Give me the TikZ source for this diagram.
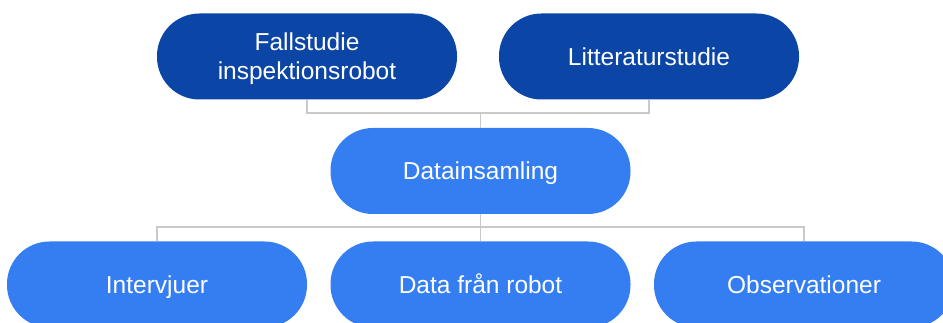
\documentclass[tikz,border=0pt]{standalone}
\usepackage{fontspec}
\setmainfont{Liberation Sans}
\definecolor{darkbox}{HTML}{0B46A6}
\definecolor{lightbox}{HTML}{347EF2}
\definecolor{connc}{HTML}{C9C9C9}
\begin{document}
\begin{tikzpicture}[x=1pt,y=-1pt,
  pill/.style={rectangle, rounded corners=42.5pt, minimum width=300pt, minimum height=86pt,
    text=white, align=center, font=\fontsize{24.5}{29}\selectfont, inner sep=0pt},
  oneline/.style={text height=19.5pt, text depth=2pt},
  darkpill/.style={pill, fill=darkbox},
  lightpill/.style={pill, fill=lightbox, oneline},
  conn/.style={draw=connc, line width=1.8pt}]
\useasboundingbox (0,0) rectangle (943,323);
\node[darkpill] (fall) at (307,56.5)
  {\raisebox{-3pt}[\height][\depth]{\begin{tabular}{@{}c@{}}Fallstudie\\inspektionsrobot\end{tabular}}};
\node[darkpill, oneline] (litt) at (649,56.5) {Litteraturstudie};
\node[lightpill] (data) at (480.5,171) {Datainsamling};
\node[lightpill] (intv) at (157,284.5) {Intervjuer};
\node[lightpill] (robot) at (480.5,284.5) {Data från robot};
\node[lightpill] (obs) at (804,284.5) {Observationer};
\coordinate (jt) at (480.5,113);
\coordinate (jb) at (480.5,227);
\draw[conn] (fall.south) |- (jt) -| (litt.south);
\draw[conn] (jt) -- (data.north);
\draw[conn] (data.south) -- (robot.north);
\draw[conn] (intv.north) |- (jb) -| (obs.north);
\end{tikzpicture}
\end{document}
